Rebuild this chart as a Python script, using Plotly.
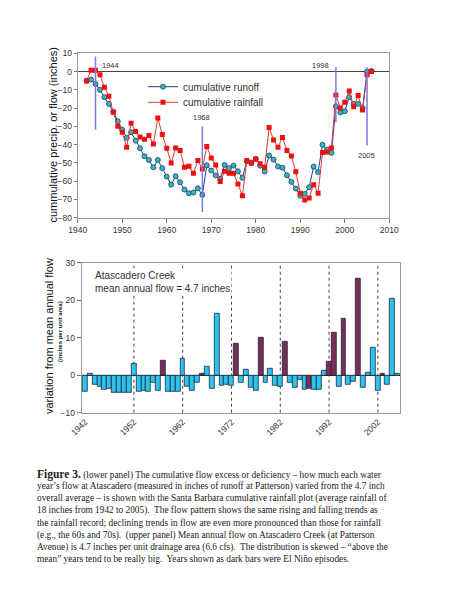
import plotly.graph_objects as go

# ---------------- data ----------------
years = list(range(1942, 2007))

cum_runoff = [-5.0, -4.4, -6.8, -10.0, -14.0, -17.7, -22.0, -27.2, -31.8, -36.3,
              -33.2, -37.8, -42.0, -46.4, -48.4, -52.4, -48.4, -52.9, -57.5, -61.9,
              -57.3, -60.6, -64.6, -66.6, -66.2, -63.9, -67.5, -51.3, -54.2, -56.8,
              -58.8, -51.1, -52.9, -51.5, -54.6, -58.2, -49.1, -49.8, -47.8, -51.5,
              -54.7, -46.0, -48.2, -52.0, -52.6, -56.8, -60.4, -64.0, -68.0, -67.0,
              -63.3, -52.0, -55.0, -40.1, -42.7, -44.5, -19.0, -22.4, -21.7, -14.0,
              -17.7, -17.7, -20.0, 0.0, 0.3]

cum_rainfall = [-5.1, 0.7, 0.7, -1.8, -8.6, -13.5, -22.3, -29.9, -33.2, -41.4,
                -28.3, -32.8, -35.8, -37.0, -35.0, -39.6, -25.4, -34.5, -42.0, -50.0,
                -41.8, -43.2, -52.4, -51.8, -55.6, -48.7, -53.3, -41.0, -47.3, -51.1,
                -60.2, -54.6, -55.7, -55.7, -61.5, -68.0, -48.7, -50.2, -47.8, -50.5,
                -52.4, -30.6, -37.4, -41.4, -36.1, -43.2, -46.2, -54.9, -66.6, -70.3,
                -69.2, -61.9, -66.6, -44.3, -44.0, -41.8, -12.8, -20.0, -16.8, -10.6,
                -19.2, -13.1, -21.0, -1.8, 0.0]

flow_dev = [-4.5, 0.5, -2.4, -3.1, -3.9, -3.6, -4.6, -4.6, -4.6, -4.6,
            3.0, -4.3, -4.1, -4.3, -2.1, -4.1, 3.9, -4.4, -4.5, -4.3,
            4.4, -3.1, -4.2, -2.0, 0.5, 2.2, -3.6, 16.4, -2.9, -2.4,
            -2.8, 8.5, -1.9, 1.6, -3.2, -4.1, 9.9, -1.9, 1.7, -2.7,
            -3.0, 9.0, -2.1, -3.4, -1.1, -3.9, -3.5, -3.9, -3.8, 1.1,
            3.6, 11.3, -3.0, 15.2, -2.6, -1.8, 25.8, -3.4, 0.7, 7.3,
            -4.0, 0.5, -2.4, 20.5, 0.5]

el_nino_years = [1958, 1966, 1973, 1978, 1983, 1988, 1992, 1993, 1995, 1998, 2003]

event_years = [1944, 1968, 1998, 2005]
event_top = [8.2, -30.1, 2.4, 2.4]
event_bottom = [-31.9, -77.0, -27.7, -40.5]

upper_xticks = [1940, 1950, 1960, 1970, 1980, 1990, 2000, 2010]
upper_yticks = [10, 0, -10, -20, -30, -40, -50, -60, -70, -80]
lower_xticks = [1942, 1952, 1962, 1972, 1982, 1992, 2002]
lower_yticks = [-10, 0, 10, 20, 30]

caption_lines = [
    "<b><span style='font-size:11.5px'>Figure 3.</span></b> (lower panel) The cumulative flow excess or deficiency \u2013 how much each water",
    "year\u2019s flow at Atascadero (measured in inches of runoff at Patterson) varied from the 4.7 inch",
    "overall average \u2013 is shown with the Santa Barbara cumulative rainfall plot (average rainfall of",
    "18 inches from 1942 to 2005).  The flow pattern shows the same rising and falling trends as",
    "the rainfall record; declining trends in flow are even more pronounced than those for rainfall",
    "(e.g., the 60s and 70s).  (upper panel) Mean annual flow on Atascadero Creek (at Patterson",
    "Avenue) is 4.7 inches per unit drainage area (6.6 cfs).  The distribution is skewed \u2013 \u201cabove the",
    "mean\u201d years tend to be really big.  Years shown as dark bars were El Ni\u00f1o episodes.",
]

# ---------------- figure ----------------
W, H = 450, 600
SANS = "Liberation Sans, Arial, sans-serif"
SERIF = "Liberation Serif, Times New Roman, serif"

def px_x(p):
    return p / W

def px_y(p):
    return 1 - p / H

fig = go.Figure()

# upper panel
fig.add_trace(go.Scatter(
    x=years, y=cum_runoff, mode="lines+markers", name="cumulative runoff",
    line=dict(color="#1d3f8a", width=1),
    marker=dict(symbol="circle", size=5, color="#38b6c0",
                line=dict(color="#1d3f6a", width=0.8)),
    xaxis="x", yaxis="y", legend="legend"))
fig.add_trace(go.Scatter(
    x=years, y=cum_rainfall, mode="lines+markers", name="cumulative rainfall",
    line=dict(color="#e23a3a", width=1),
    marker=dict(symbol="square", size=5, color="#ee1111",
                line=dict(color="#ee1111", width=0)),
    xaxis="x", yaxis="y", legend="legend2"))

for yr, top, bot in zip(event_years, event_top, event_bottom):
    fig.add_trace(go.Scatter(
        x=[yr, yr], y=[top, bot], mode="lines", showlegend=False,
        line=dict(color="#7b7be0", width=1.5), hoverinfo="skip",
        xaxis="x", yaxis="y"))

label_style = {
    1944: dict(at="zero", xanchor="left", yanchor="bottom", xshift=4, yshift=0),
    1968: dict(at="top", xanchor="center", yanchor="bottom", xshift=-1, yshift=3),
    1998: dict(at="zero", xanchor="right", yanchor="bottom", xshift=-5, yshift=0),
    2005: dict(at="bottom", xanchor="center", yanchor="top", xshift=-1, yshift=-3),
}
for yr, top, bot in zip(event_years, event_top, event_bottom):
    st = label_style[yr]
    yv = {"zero": 0, "top": top, "bottom": bot}[st["at"]]
    fig.add_annotation(x=yr, y=yv, xref="x", yref="y", text=str(yr),
                       showarrow=False, xanchor=st["xanchor"], yanchor=st["yanchor"],
                       xshift=st["xshift"], yshift=st["yshift"],
                       font=dict(family=SANS, size=7.5, color="#333"))

# lower panel
bar_colors = ["#7e2b58" if y in el_nino_years else "#2ec2ee" for y in years]
fig.add_trace(go.Bar(
    x=years, y=flow_dev, marker=dict(color=bar_colors, line=dict(color="#1a2a3a", width=0.8)),
    showlegend=False, xaxis="x2", yaxis="y2", width=1))

axis_font = dict(family=SANS, size=8.5, color="#333")
legend_common = dict(xanchor="left", yanchor="middle", bgcolor="rgba(0,0,0,0)",
                     font=dict(family=SANS, size=10, color="#333"), itemwidth=30,
                     borderwidth=0)

fig.update_layout(
    width=W, height=H, margin=dict(l=0, r=0, t=0, b=0),
    template="none",
    paper_bgcolor="white", plot_bgcolor="white",
    bargap=0,
    showlegend=True,
    legend=dict(x=px_x(143), y=px_y(86.7), **legend_common),
    legend2=dict(x=px_x(143), y=px_y(102.3), **legend_common),
    xaxis=dict(domain=[px_x(77.7), px_x(389.3)], range=[1940, 2010],
               tickvals=upper_xticks, ticks="outside", ticklen=4, tickcolor="#777",
               showline=True, linecolor="#999", mirror=True, showgrid=False, zeroline=False,
               tickfont=axis_font, automargin=False, anchor="y"),
    yaxis=dict(domain=[px_y(217.7), px_y(53.3)], range=[-80, 10],
               tickvals=upper_yticks, ticks="outside", ticklen=3, tickcolor="#777",
               showline=True, linecolor="#999", mirror=True, showgrid=False,
               zeroline=True, zerolinecolor="#444", zerolinewidth=1,
               tickfont=axis_font, automargin=False, anchor="x"),
    xaxis2=dict(domain=[px_x(81.7), px_x(400.3)], range=[1941.3, 2006.6],
                tickvals=lower_xticks, ticktext=[str(v) for v in lower_xticks],
                tickangle=-45, ticks="", showline=True, linecolor="#999", mirror=True,
                showgrid=False, zeroline=False, tickfont=axis_font, automargin=False,
                anchor="y2"),
    yaxis2=dict(domain=[px_y(412.7), px_y(262.7)], range=[-10, 30],
                tickvals=lower_yticks, ticks="outside", ticklen=4, tickcolor="#777",
                showline=True, linecolor="#999", mirror=True, showgrid=False,
                zeroline=True, zerolinecolor="#222", zerolinewidth=1,
                tickfont=axis_font, automargin=False, anchor="x2"),
)

# dotted decade lines in the lower panel
for gx in lower_xticks[1:]:
    fig.add_shape(type="line", xref="x2", yref="y2 domain", x0=gx, x1=gx, y0=0, y1=1,
                  line=dict(color="#444", width=1, dash="dot"), layer="below")

# axis titles
fig.add_annotation(xref="paper", yref="paper", x=px_x(52), y=px_y(135.5),
                   xanchor="center", yanchor="middle",
                   text="cummulative precip. or flow (inches)", textangle=-90,
                   showarrow=False, font=dict(family=SANS, size=11, color="#111"))
fig.add_annotation(xref="paper", yref="paper", x=px_x(49), y=px_y(336),
                   xanchor="center", yanchor="middle",
                   text="variation from mean annual flow", textangle=-90,
                   showarrow=False, font=dict(family=SANS, size=11, color="#111"))
fig.add_annotation(xref="paper", yref="paper", x=px_x(60), y=px_y(332),
                   xanchor="center", yanchor="middle",
                   text="<b>(inches per unit area)</b>", textangle=-90,
                   showarrow=False, font=dict(family=SANS, size=6, color="#111"))

# panel note
fig.add_annotation(xref="paper", yref="paper", x=px_x(93), y=px_y(268),
                   xanchor="left", yanchor="top", align="left",
                   text="Atascadero Creek<br>mean annual flow = 4.7 inches",
                   showarrow=False, bgcolor="white", borderpad=1,
                   font=dict(family=SANS, size=10, color="#333"))

# caption
for i, line in enumerate(caption_lines):
    fig.add_annotation(xref="paper", yref="paper", x=px_x(35), y=px_y(474.5 + 12.1 * i),
                       xanchor="left", yanchor="middle", align="left", text=line,
                       showarrow=False, font=dict(family=SERIF, size=9.3, color="#222"))

fig.write_html("out.html", config={"displayModeBar": False},
               post_script="document.body.style.margin='0';document.body.style.overflow='hidden';")
